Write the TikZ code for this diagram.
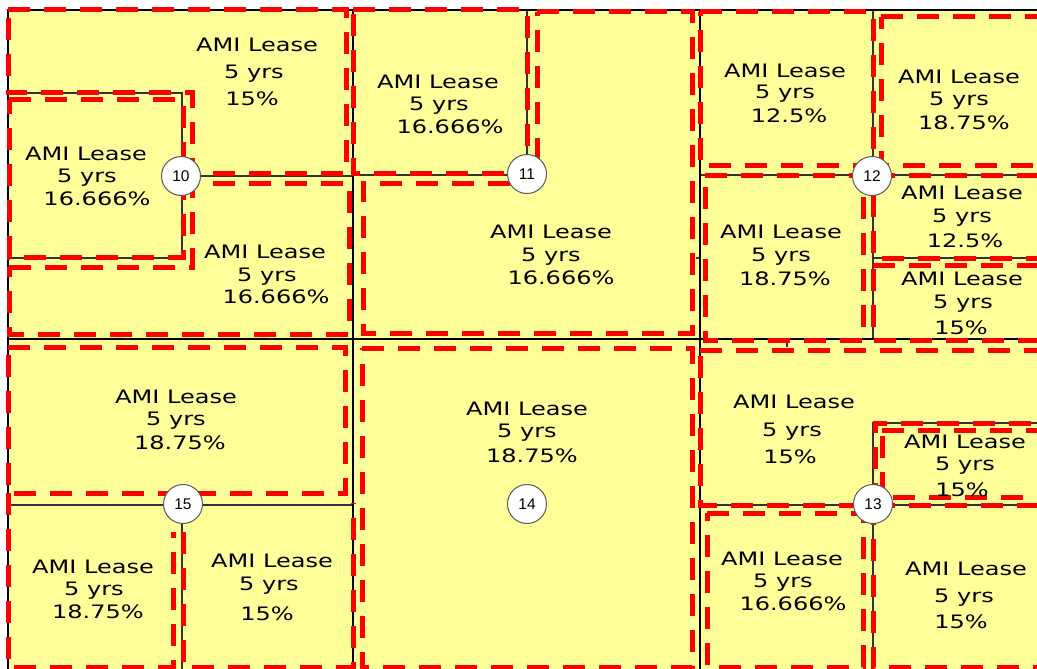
\documentclass[tikz,border=0pt]{standalone}
\usepackage{fontspec}
\newfontfamily\lf{DejaVu Sans}[FakeStretch=1.3]
\newfontfamily\cf{Liberation Sans}
\definecolor{parcel}{HTML}{FFFF99}
\newcommand\lease[8]{%
  \node[lbl] (#1-l) at (#2,#3+6.7) {AMI Lease};
  \node[lbl] (#1-y) at (#4,#5+6.7) {5 yrs};
  \node[lbl] (#1-p) at (#6,#7+6.7) {#8};}
\begin{document}
\begin{tikzpicture}[x=1pt,y=-1pt,
  lbl/.style={anchor=base,inner sep=0pt,font=\lf\fontsize{18.5}{20}\selectfont,text=black},
  mainline/.style={draw=black,line width=2pt},
  subline/.style={draw=black!80,line width=1.2pt},
  redline/.style={draw=red,line width=5pt,dash pattern=on 22pt off 14pt},
  marker/.style={circle,draw=black!65,line width=1pt,fill=white,minimum size=39pt,inner sep=0pt,font=\cf\fontsize{15.5}{15.5}\selectfont}]
\useasboundingbox (0,0) rectangle (1037,669);
\clip (0,0) rectangle (1037,669);
\fill[white] (0,0) rectangle (1037,669);
\fill[parcel] (8,10) rectangle (1040,672);
% thin parcel boundaries
\draw[subline] (8,93) -- (182,93) -- (182,258) -- (8,258);
\draw[subline] (182,176) -- (353,176);
\draw[subline] (527,10) -- (527,175) -- (353,175);
\draw[subline] (873,10) -- (873,339);
\draw[subline] (700,175) -- (1037,175);
\draw[subline] (873,258) -- (1037,258);
\draw[subline] (8,505) -- (353,505);
\draw[subline] (182,505) -- (182,669);
\draw[subline] (700,505) -- (1037,505);
\draw[subline] (1037,423) -- (873,423) -- (873,669);
\draw[subline] (696,258) -- (700,258);
\draw[subline] (787,339) -- (787,347);
% main grid
\draw[mainline] (8,669) -- (8,10) -- (1037,10);
\draw[mainline] (353,10) -- (353,669);
\draw[mainline] (700,10) -- (700,669);
\draw[mainline] (8,339) -- (1037,339);
% red dashed parcel outlines
\draw[redline] (8,10) -- (346,10) -- (346,173) -- (192,173) -- (192,93) -- (8,93) -- cycle;
\draw[redline] (9,100) -- (183,100) -- (183,257) -- (9,257) -- cycle;
\draw[redline] (9,267) -- (192,267) -- (192,183) -- (349,183) -- (349,334) -- (9,334) -- cycle;
\draw[redline] (353,10) -- (527,10) -- (527,173) -- (353,173) -- cycle;
\draw[redline] (537,12) -- (692,12) -- (692,333) -- (363,333) -- (363,183) -- (537,183) -- cycle;
\draw[redline] (700,12) -- (873,12) -- (873,165) -- (700,165) -- cycle;
\draw[redline] (881,17) -- (1045,17) -- (1045,165) -- (881,165) -- cycle;
\draw[redline] (705,175) -- (863,175) -- (863,340) -- (705,340) -- cycle;
\draw[redline] (873,175) -- (1045,175) -- (1045,258) -- (873,258) -- cycle;
\draw[redline] (873,265) -- (1045,265) -- (1045,340) -- (873,340) -- cycle;
\draw[redline] (8,347) -- (345,347) -- (345,493) -- (8,493) -- cycle;
\draw[redline] (8,493) -- (8,667) -- (173,667) -- (173,532);
\draw[redline] (183,532) -- (183,667) -- (353,667) -- (353,503);
\draw[redline] (362,348) -- (692,348) -- (692,667) -- (362,667) -- cycle;
\draw[redline] (700,350) -- (1045,350) -- (1045,423) -- (875,423) -- (875,505) -- (700,505) -- cycle;
\draw[redline] (882,430) -- (1045,430) -- (1045,497) -- (882,497) -- cycle;
\draw[redline] (707,513) -- (863,513) -- (863,667) -- (707,667) -- cycle;
\draw[redline] (873,505) -- (1045,505) -- (1045,667) -- (873,667) -- cycle;
% labels
\lease{a1}{257}{45}{254}{72}{252}{99}{15\%}
\lease{a2}{86}{154}{87}{176}{97}{199}{16.666\%}
\lease{a3}{265}{252}{267}{275}{276}{297}{16.666\%}
\lease{b1}{438}{82}{439}{104}{450}{127}{16.666\%}
\lease{b2}{551}{232}{551}{255}{561}{278}{16.666\%}
\lease{c1}{785}{71}{785}{92}{789}{116}{12.5\%}
\lease{c2}{959}{77}{959}{99}{964}{123}{18.75\%}
\lease{c3}{781}{232}{781}{255}{785}{279}{18.75\%}
\lease{c4}{962}{193}{962}{216}{965}{241}{12.5\%}
\lease{c5}{962}{279}{963}{302}{961}{328}{15\%}
\lease{d1}{176}{397}{176}{419}{180}{443}{18.75\%}
\lease{d2}{93}{567}{94}{589}{98}{612}{18.75\%}
\lease{d3}{272}{561}{269}{584}{267}{614}{15\%}
\lease{e1}{527}{409}{527}{431}{532}{456}{18.75\%}
\lease{f1}{794}{402}{792}{430}{790}{457}{15\%}
\lease{f2}{965}{442}{965}{464}{962}{490}{15\%}
\lease{f3}{782}{559}{783}{581}{793}{604}{16.666\%}
\lease{f4}{966}{569}{964}{596}{961}{622}{15\%}
% numbered markers
\node[marker] (n10) at (181,176) {10};
\node[marker] (n11) at (527,174) {11};
\node[marker] (n12) at (872,176) {12};
\node[marker] (n13) at (873,504) {13};
\node[marker] (n14) at (527,504) {14};
\node[marker] (n15) at (183,504) {15};
\end{tikzpicture}
\end{document}
